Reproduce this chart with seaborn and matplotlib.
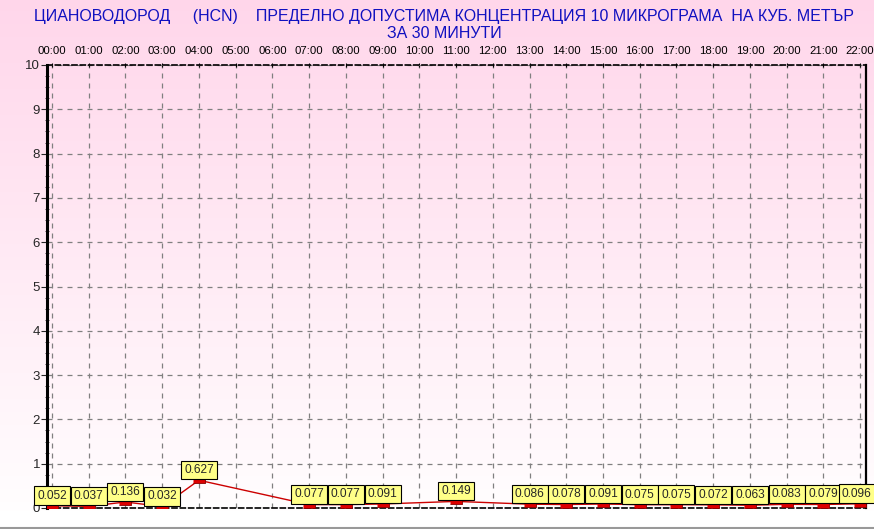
import numpy as np
import matplotlib
matplotlib.use("Agg")
import matplotlib.pyplot as plt
import seaborn as sns
from matplotlib.lines import Line2D
from matplotlib.ticker import MultipleLocator

# data (missing hours have no value)
hours = [0, 1, 2, 3, 4, 7, 8, 9, 11, 13, 14, 15, 16, 17, 18, 19, 20, 21, 22]
values = [0.052, 0.037, 0.136, 0.032, 0.627, 0.077, 0.077, 0.091, 0.149,
          0.086, 0.078, 0.091, 0.075, 0.075, 0.072, 0.063, 0.083, 0.079, 0.096]
tick_hours = list(range(0, 23))
tick_labels = ["%02d:00" % h for h in tick_hours]
title1 = "ЦИАНОВОДОРОД     (HCN)    ПРЕДЕЛНО ДОПУСТИМА КОНЦЕНТРАЦИЯ 10 МИКРОГРАМА  НА КУБ. МЕТЪР"
title2 = "ЗА 30 МИНУТИ"

sns.set_style("white")
plt.rcParams['font.family'] = ['Liberation Sans', 'DejaVu Sans']

fig = plt.figure(figsize=(8.74, 5.29), dpi=100)

# pink to white background gradient
bg = fig.add_axes([0, 0, 1, 1], zorder=-10)
grad = np.linspace(0, 1, 256).reshape(-1, 1)
top = np.array([1.0, 0.84, 0.92])
bot = np.array([1.0, 1.0, 1.0])
img = top[None, None, :] * (1 - grad[..., None]) + bot[None, None, :] * grad[..., None]
img[int(256 * 0.965):] = 1.0
bg.imshow(img, aspect="auto", extent=[0, 1, 0, 1])
bg.axis("off")

ax = fig.add_axes([47 / 874, 21 / 529, 819 / 874, 443 / 529])
ax.patch.set_alpha(0)

rect = [(-1, -0.55), (1, -0.55), (1, 0.55), (-1, 0.55)]
sns.lineplot(x=hours, y=values, ax=ax, color="#cc0000", linewidth=1,
             marker=rect, markersize=9, markerfacecolor="#dd0000",
             markeredgecolor="#880000", markeredgewidth=0.6, zorder=5)

for i, (h, v) in enumerate(zip(hours, values)):
    dx = -2.5 if i == len(hours) - 1 else 0
    ax.annotate("%.3f" % v, (h, v), xytext=(dx, 3.0), textcoords="offset points",
                ha="center", va="bottom", fontsize=8.6, zorder=6,
                annotation_clip=False,
                bbox=dict(boxstyle="square,pad=0.26", fc="#ffff88", ec="black", lw=0.8))

ax.set_xlim(-0.136, 22.16)
ax.set_ylim(0, 10)
ax.set_xticks(tick_hours)
ax.set_xticklabels(tick_labels)
ax.set_yticks(range(0, 11))
ax.yaxis.set_minor_locator(MultipleLocator(0.25))
ax.xaxis.tick_top()
ax.tick_params(axis="x", top=True, bottom=False, length=3, direction="inout",
               labelsize=8.2, pad=5, colors="black")
ax.tick_params(axis="y", which="major", left=True, length=4, direction="out",
               labelsize=9.5, pad=1)
ax.tick_params(axis="y", which="minor", left=True, length=3, direction="inout")

ax.grid(True, color="#808080", linestyle=(0, (4, 4)), linewidth=0.9)
ax.set_axisbelow(True)

for s in ["top", "bottom"]:
    ax.spines[s].set_linestyle((0, (3, 2)))
    ax.spines[s].set_color("black")
    ax.spines[s].set_linewidth(1.2)
ax.spines["left"].set_linewidth(2.2)
ax.spines["left"].set_color("black")
ax.spines["right"].set_linewidth(1.6)
ax.spines["right"].set_color("black")

fig.text(444 / 874, 1 - 16 / 529, title1, ha="center", va="center",
         fontsize=11.5, color="#1010c0")
fig.text(444 / 874, 1 - 33 / 529, title2, ha="center", va="center",
         fontsize=11.5, color="#1010c0")

fig.add_artist(Line2D([0, 1], [1.5 / 529, 1.5 / 529], color="#999999", lw=1.5))

fig.savefig("out.png", dpi=100)
